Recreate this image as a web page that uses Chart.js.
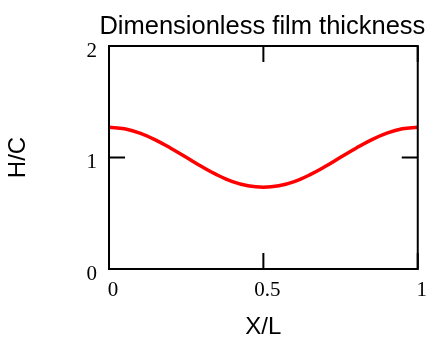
<!DOCTYPE html>
<html>
<head>
<meta charset="utf-8">
<script src="https://cdn.jsdelivr.net/npm/chart.js@4.4.1/dist/chart.umd.min.js"></script>
<style>
  html, body { margin: 0; padding: 0; background: #fff; }
  #wrap { width: 432px; height: 337px; position: relative; }
</style>
</head>
<body>
<div id="wrap"><canvas id="c" width="432" height="337"></canvas></div>
<script>
const titleText = "Dimensionless film thickness";
const xLabel = "X/L";
const yLabel = "H/C";
const xValues = [0, 0.05, 0.1, 0.15, 0.2, 0.25, 0.3, 0.35, 0.4, 0.45, 0.5,
                 0.55, 0.6, 0.65, 0.7, 0.75, 0.8, 0.85, 0.9, 0.95, 1];
const hValues = [1.271, 1.258, 1.218, 1.158, 1.083, 1.002, 0.919, 0.844, 0.784, 0.746, 0.733,
                 0.746, 0.784, 0.844, 0.919, 1.002, 1.083, 1.158, 1.218, 1.258, 1.271];
const xTicks = [0, 0.5, 1];
const yTicks = [0, 1, 2];

const points = xValues.map((x, i) => ({ x: x, y: hValues[i] }));

// Title centred over the plot area (as in the reference), drawn as canvas text
const plotTitle = {
  id: 'plotTitle',
  afterDraw(chart) {
    const ctx = chart.ctx;
    const a = chart.chartArea;
    ctx.save();
    ctx.fillStyle = '#000';
    ctx.font = 'normal 25.5px "Liberation Sans", Arial, sans-serif';
    ctx.textAlign = 'center';
    ctx.textBaseline = 'alphabetic';
    ctx.fillText(titleText, (a.left + a.right) / 2 - 1, a.top - 12);
    ctx.restore();
  }
};

const boxPlugin = {
  id: 'boxTicks',
  afterDatasetsDraw(chart) {
    const ctx = chart.ctx;
    const a = chart.chartArea;
    const xs = chart.scales.x, ys = chart.scales.y;
    const len = 16;
    ctx.save();
    ctx.strokeStyle = '#000';
    ctx.lineWidth = 2;
    ctx.beginPath();
    xTicks.forEach(v => {
      const px = xs.getPixelForValue(v);
      ctx.moveTo(px, a.bottom); ctx.lineTo(px, a.bottom - len);
      ctx.moveTo(px, a.top); ctx.lineTo(px, a.top + len);
    });
    yTicks.forEach(v => {
      const py = ys.getPixelForValue(v);
      ctx.moveTo(a.left, py); ctx.lineTo(a.left + len, py);
      ctx.moveTo(a.right, py); ctx.lineTo(a.right - len, py);
    });
    ctx.stroke();
    ctx.strokeRect(a.left, a.top, a.right - a.left, a.bottom - a.top);
    ctx.restore();
  }
};

new Chart(document.getElementById('c'), {
  type: 'line',
  data: {
    datasets: [{
      data: points,
      borderColor: '#ff0000',
      borderWidth: 3.5,
      pointRadius: 0,
      tension: 0.4,
      fill: false
    }]
  },
  options: {
    responsive: false,
    animation: false,
    layout: { padding: { left: 0, right: 10, top: 46, bottom: 0 } },
    plugins: {
      legend: { display: false },
      tooltip: { enabled: false },
      title: { display: false }
    },
    scales: {
      x: {
        type: 'linear',
        min: 0, max: 1,
        afterBuildTicks(s) { s.ticks = xTicks.map(v => ({ value: v })); },
        afterFit(s) { s.height = 68; },
        border: { display: false },
        grid: { display: false, drawTicks: false },
        ticks: {
          color: '#000',
          font: { family: 'Liberation Serif', size: 21 },
          padding: 9,
          labelOffset: 4,
          maxRotation: 0,
          callback: v => String(v)
        },
        title: {
          display: true, text: xLabel, color: '#000',
          font: { family: 'Liberation Sans', size: 24 },
          padding: { top: 0, bottom: -4.4 }
        }
      },
      y: {
        type: 'linear',
        min: 0, max: 2,
        afterBuildTicks(s) { s.ticks = yTicks.map(v => ({ value: v })); },
        afterFit(s) { s.width = 109; },
        border: { display: false },
        grid: { display: false, drawTicks: false },
        ticks: {
          color: '#000',
          font: { family: 'Liberation Serif', size: 21 },
          padding: 12,
          labelOffset: 5,
          callback: v => String(v)
        },
        title: {
          display: true, text: yLabel, color: '#000',
          font: { family: 'Liberation Sans', size: 24 },
          padding: { top: 4, bottom: 0 }
        }
      }
    }
  },
  plugins: [boxPlugin, plotTitle]
});
</script>
</body>
</html>
